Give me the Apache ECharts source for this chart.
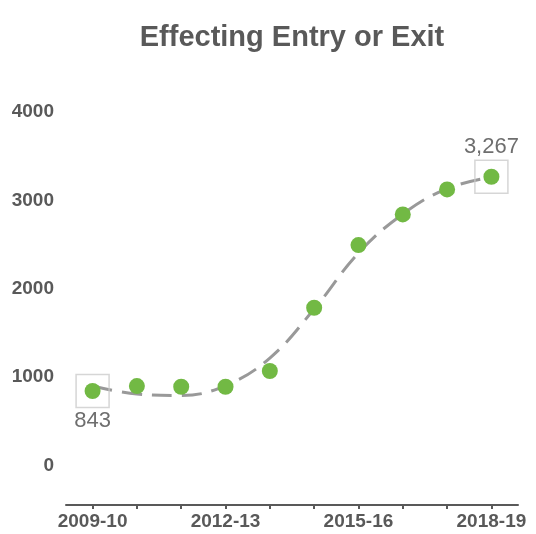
<!DOCTYPE html>
<html>
<head>
<meta charset="utf-8">
<script src="https://cdn.jsdelivr.net/npm/echarts@6/dist/echarts.min.js"></script>
<style>
html,body{margin:0;padding:0;background:#fff;}
#chart{width:536px;height:534px;}
</style>
</head>
<body>
<div id="chart"></div>
<script>
var categories = ['2009-10','2010-11','2011-12','2012-13','2013-14','2014-15','2015-16','2016-17','2017-18','2018-19'];
var values = [843, 899, 891, 891, 1069, 1785, 2494, 2841, 3124, 3267];
var trend = [899, 809, 792, 905, 1216, 1770, 2404, 2845, 3133, 3263];
var yTickLabels = [0, 1000, 2000, 3000, 4000];
var xLabelIdx = [0, 3, 6, 9];
var highlightIdx = [0, 9];

var grey = '#595959';
var font = "'Liberation Sans', Arial, sans-serif";

var chart = echarts.init(document.getElementById('chart'));
var option = {
  animation: false,
  backgroundColor: '#fff',
  title: {
    text: 'Effecting Entry or Exit',
    left: 292,
    top: 23,
    textAlign: 'center',
    padding: 0,
    textStyle: {fontFamily: font, fontSize: 29, fontWeight: 'bold', color: grey}
  },
  grid: {left: 66, right: 18, top: 112, bottom: 29, containLabel: false},
  xAxis: {
    type: 'value', min: -0.6, max: 9.6,
    splitLine: {show: false},
    axisLine: {show: true, onZero: false, lineStyle: {color: grey, width: 2}},
    axisTick: {show: true, length: 4, lineStyle: {color: grey, width: 2},
      customValues: categories.map(function(c, i){ return i; })},
    axisLabel: {
      customValues: xLabelIdx,
      formatter: function(v){ return categories[Math.round(v)]; },
      fontFamily: font, fontSize: 19, fontWeight: 'bold', color: grey, margin: 7
    }
  },
  yAxis: {
    type: 'value', min: -447, max: 4000,
    splitLine: {show: false},
    axisLine: {show: false},
    axisTick: {show: false},
    axisLabel: {
      customValues: yTickLabels,
      formatter: function(v){ return String(v); },
      fontFamily: font, fontSize: 19, fontWeight: 'bold', color: grey, margin: 12
    }
  },
  series: [
    {
      type: 'line', smooth: 0.4, showSymbol: false, z: 2,
      data: trend.map(function(v, i){ return [i, v]; }),
      lineStyle: {color: '#999999', width: 3, type: [20, 10]}
    },
    {
      type: 'scatter', z: 4, symbolSize: 16,
      data: values.map(function(v, i){ return [i, v]; }),
      itemStyle: {color: '#72b944', opacity: 1}
    },
    {
      type: 'scatter', z: 3, symbol: 'rect', symbolSize: 33,
      data: highlightIdx.map(function(i){
        return {value: [i, values[i]], label: {position: i === 0 ? 'bottom' : 'top'}};
      }),
      itemStyle: {color: 'rgba(0,0,0,0)', borderColor: '#cccccc', borderWidth: 1.5},
      label: {
        show: true, distance: 2,
        formatter: function(p){ return p.value[1].toLocaleString('en-US'); },
        fontFamily: font, fontSize: 22, color: '#4a4a4a'
      },
      emphasis: {disabled: true}
    }
  ]
};
chart.setOption(option);
</script>
</body>
</html>
